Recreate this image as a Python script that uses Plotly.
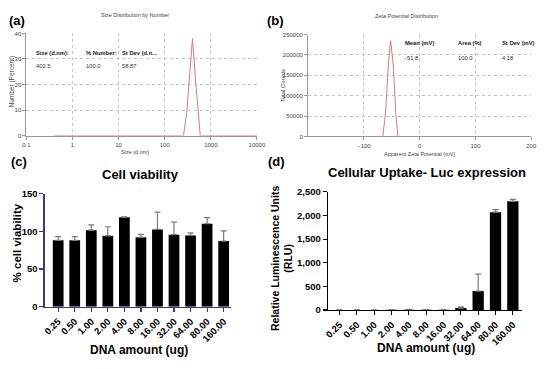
import plotly.graph_objects as go

W, H = 550, 369

# ---------- data ----------
size_nm = [0.4, 255, 300, 345, 400, 465, 530, 590, 10000]
number_pct = [0, 0, 9, 24, 38, 22, 8, 0, 0]

zeta_mv = [-150, -66, -61, -56, -52, -47, -43, -39, 150]
zeta_counts = [0, 0, 60000, 180000, 235000, 170000, 60000, 0, 0]

dna_labels = ["0.25", "0.50", "1.00", "2.00", "4.00", "8.00", "16.00", "32.00", "64.00", "80.00", "160.00"]
viability = [88, 88, 101.5, 94, 118.5, 92, 102.5, 95.5, 94.5, 110, 87]
viability_err = [5, 5, 7, 12, 0.5, 4, 23, 16.5, 3.5, 8, 13.5]

rlu = [1, 1, 1, 2, 3, 3, 3, 40, 400, 2070, 2300]
rlu_err = [1, 1, 1, 2, 8, 6, 5, 25, 360, 55, 40]

size_ticks = [0.1, 1, 10, 100, 1000, 10000]
size_ticktext = ["0.1", "1", "10", "100", "1000", "10000"]
zeta_ticks = [-100, 0, 100, 200]
# --------------------------


def px(x):
    return x / W


def py(y):
    return 1 - y / H


fig = go.Figure()

fig.add_trace(go.Scatter(x=size_nm, y=number_pct, mode="lines",
                         line=dict(color="#e07878", width=1), xaxis="x", yaxis="y",
                         showlegend=False))
fig.add_trace(go.Scatter(x=zeta_mv, y=zeta_counts, mode="lines",
                         line=dict(color="#e07878", width=1), xaxis="x2", yaxis="y2",
                         showlegend=False))
fig.add_trace(go.Bar(x=dna_labels, y=viability, marker=dict(color="black", line=dict(width=0)),
                     width=0.65,
                     error_y=dict(type="data", symmetric=False, array=viability_err,
                                  arrayminus=[0] * len(viability_err),
                                  color="#7a7a7a", thickness=1.2, width=3),
                     xaxis="x3", yaxis="y3", showlegend=False))
fig.add_trace(go.Bar(x=dna_labels, y=rlu, marker=dict(color="black", line=dict(width=0)),
                     width=0.65,
                     error_y=dict(type="data", symmetric=False, array=rlu_err,
                                  arrayminus=[0] * len(rlu_err),
                                  color="#7a7a7a", thickness=1.2, width=3),
                     xaxis="x4", yaxis="y4", showlegend=False))

small_font = dict(family="Arial", size=6, color="#444")
grid_common = dict(showgrid=True, gridcolor="#c4c4c4", griddash="dot", gridwidth=1,
                   zeroline=False, showline=True, linecolor="#999", linewidth=1,
                   ticks="outside", ticklen=3, tickcolor="#999", tickfont=small_font)

navy = "#3a3a80"
bar_axis = dict(showline=True, linewidth=1.5, ticks="outside", ticklen=4, tickwidth=1.2,
                showgrid=False, zeroline=False,
                tickfont=dict(family="Arial", size=9.5, color="black", weight="bold"))

fig.update_layout(
    width=W, height=H, autosize=False,
    margin=dict(l=0, r=0, t=0, b=0),
    paper_bgcolor="white", plot_bgcolor="white",
    bargap=0.35,
    xaxis=dict(domain=[px(22), px(258.5)], type="log", range=[-1, 4],
               tickvals=size_ticks, ticktext=size_ticktext, anchor="y",
               **grid_common),
    yaxis=dict(domain=[py(133.5), py(28.3)], range=[0, 40], tickvals=[0, 10, 20, 30, 40],
               anchor="x", **grid_common),
    xaxis2=dict(domain=[px(311), px(540)], range=[-200, 200], tickvals=zeta_ticks,
                anchor="y2", **grid_common),
    yaxis2=dict(domain=[py(134.5), py(29.5)], range=[0, 250000],
                tickvals=[0, 50000, 100000, 150000, 200000, 250000],
                ticktext=["0", "50000", "100000", "150000", "200000", "250000"],
                anchor="x2", **grid_common),
    xaxis3=dict(domain=[px(41), px(232)], range=[-0.8, 10.45], anchor="y3", tickangle=-45,
                linecolor=navy, tickcolor=navy, **bar_axis),
    yaxis3=dict(domain=[py(310), py(193.3)], range=[0, 150], tickvals=[0, 50, 100, 150],
                anchor="x3", linecolor=navy, tickcolor=navy, **bar_axis),
    xaxis4=dict(domain=[px(331.7), px(530)], range=[-0.65, 10.5], anchor="y4", tickangle=-45,
                linecolor="black", tickcolor="black", **bar_axis),
    yaxis4=dict(domain=[py(313.3), py(191.6)], range=[0, 2500],
                tickvals=[0, 500, 1000, 1500, 2000, 2500],
                ticktext=["0", "500", "1,000", "1,500", "2,000", "2,500"],
                anchor="x4", linecolor="black", tickcolor="black", **bar_axis),
)

ann = []


def add_text(text, x, y, size, xanchor="center", yanchor="middle", bold=False,
             color="black", angle=0, family="Arial"):
    ann.append(dict(text=text, x=px(x), y=py(y), xref="paper", yref="paper",
                    xanchor=xanchor, yanchor=yanchor, showarrow=False, textangle=angle,
                    font=dict(family=family, size=size, color=color,
                              weight="bold" if bold else "normal")))


# panel letters
add_text("(a)", 2, 15, 13, xanchor="left", bold=True)
add_text("(b)", 267, 15, 13, xanchor="left", bold=True)
add_text("(c)", 4, 160, 13, xanchor="left", bold=True)
add_text("(d)", 268, 160, 13, xanchor="left", bold=True)

# panel a/b titles and axis titles
add_text("Size Distribution by Number", 133, 9.5, 5.5, color="#444")
add_text("Zeta Potential Distribution", 412, 10, 5.5, color="#444")
add_text("Size (d.nm)", 133, 150.5, 5.5, color="#444")
add_text("Apparent Zeta Potential (mV)", 425, 153, 5.5, color="#444")
add_text("Number (Percent)", 7, 78, 6.5, color="#444", angle=-90)
add_text("Total Counts", 285, 82, 6, color="#444", angle=-90)

# panel a inline stats
add_text("Size (d.nm):", 30, 48, 5.8, xanchor="left", bold=True, color="#222")
add_text("402.5", 30, 62, 5.8, xanchor="left", color="#333")
add_text("% Number:", 81, 48, 5.8, xanchor="left", bold=True, color="#222")
add_text("100.0", 81, 62, 5.8, xanchor="left", color="#333")
add_text("St Dev (d.n...", 118, 48, 5.8, xanchor="left", bold=True, color="#222")
add_text("58.87", 118, 62, 5.8, xanchor="left", color="#333")

# panel b inline stats
add_text("Mean (mV)", 408, 38.5, 5.8, xanchor="left", bold=True, color="#222")
add_text("-51.8", 408, 53.5, 5.8, xanchor="left", color="#333")
add_text("Area (%)", 463, 38.5, 5.8, xanchor="left", bold=True, color="#222")
add_text("100.0", 463, 53.5, 5.8, xanchor="left", color="#333")
add_text("St Dev (mV)", 508, 38.5, 5.8, xanchor="left", bold=True, color="#222")
add_text("4.18", 508, 53.5, 5.8, xanchor="left", color="#333")

# panel c/d titles
add_text("Cell viability", 139, 174, 13, bold=True)
add_text("Cellular Uptake- Luc expression", 433, 172, 13, bold=True)
add_text("DNA amount (ug)", 137, 355, 12, bold=True)
add_text("DNA amount (ug)", 432, 352, 12, bold=True)
add_text("% cell viability", 12, 244, 11.5, bold=True, angle=-90)
add_text("Relative Luminescence Units<br>(RLU)", 284, 260, 10.5, bold=True, angle=-90)

fig.update_layout(annotations=ann)

fig.write_html("out.html", config={"displayModeBar": False, "staticPlot": True},
               post_script="document.body.style.margin='0';document.body.style.overflow='hidden';")
